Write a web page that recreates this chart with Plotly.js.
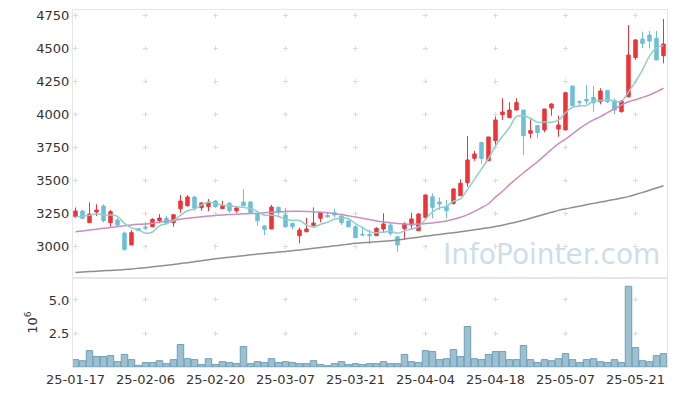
<!DOCTYPE html>
<html>
<head>
<meta charset="utf-8">
<script src="https://cdn.plot.ly/plotly-3.0.1.min.js"></script>
<style>html,body{margin:0;padding:0;background:#fff;}#chart{width:677px;height:396px;}</style>
</head>
<body>
<div id="chart"></div>
<script>
const dates = [
"25-01-17","25-01-20","25-01-21","25-01-22","25-01-23","25-01-24","25-01-31",
"25-02-03","25-02-04","25-02-05","25-02-06","25-02-07","25-02-10","25-02-11","25-02-12","25-02-13","25-02-14",
"25-02-17","25-02-18","25-02-19","25-02-20","25-02-21","25-02-24","25-02-25","25-02-26","25-02-27","25-02-28",
"25-03-04","25-03-05","25-03-06","25-03-07","25-03-10","25-03-11","25-03-12","25-03-13","25-03-14",
"25-03-17","25-03-18","25-03-19","25-03-20","25-03-21","25-03-24","25-03-25","25-03-26","25-03-27","25-03-28","25-03-31",
"25-04-01","25-04-02","25-04-03","25-04-04","25-04-07","25-04-08","25-04-09","25-04-10","25-04-11",
"25-04-14","25-04-15","25-04-16","25-04-17","25-04-18","25-04-21","25-04-22","25-04-23","25-04-24","25-04-25",
"25-04-28","25-04-29","25-04-30","25-05-02","25-05-07","25-05-08","25-05-09","25-05-12","25-05-13","25-05-14",
"25-05-15","25-05-16","25-05-19","25-05-20","25-05-21","25-05-22","25-05-23","25-05-26","25-05-27"
];
const openP = [
3223,3265,3177,3258,3303,3177,3197,3098,3008,3131,
3144,3146,3192,3210,3177,3283,3305,3371,3290,3298,
3341,3283,3324,3267,3333,3333,3242,3152,3129,3293,
3235,3172,3078,3108,3154,3210,3232,3252,3227,3189,
3146,3088,3088,3078,3129,3159,3070,3131,3159,3116,
3217,3373,3333,3298,3323,3381,3480,3664,3783,3646,
3798,3995,3972,4030,4030,3854,3912,3879,4045,3886,
3879,4212,4093,4111,4126,4093,4179,4101,4018,4131,
4427,4568,4598,4573,4442];
const highP = [
3292,3270,3331,3316,3316,3273,3214,3108,3121,3136,
3180,3210,3242,3227,3237,3386,3386,3379,3333,3356,
3348,3343,3333,3298,3430,3341,3250,3159,3311,3298,
3288,3177,3139,3214,3293,3255,3258,3283,3242,3202,
3157,3146,3121,3142,3248,3177,3078,3180,3252,3250,
3392,3399,3369,3348,3437,3505,3833,3720,3790,3826,
3980,4119,4089,4119,4030,3960,3912,4038,4081,3987,
4169,4212,4106,4220,4212,4195,4182,4119,4106,4674,
4568,4624,4629,4629,4720];
const lowP = [
3212,3205,3177,3227,3177,3146,3154,2964,3008,3114,
3121,3142,3172,3164,3146,3252,3298,3267,3267,3265,
3290,3283,3252,3252,3305,3252,3154,3083,3129,3230,
3139,3126,3020,3108,3154,3180,3214,3217,3159,3139,
3063,3078,3015,3078,3108,3078,2957,3045,3121,3113,
3210,3210,3273,3210,3313,3381,3449,3646,3621,3646,
3765,3955,3972,4030,3689,3816,3816,3861,3987,3828,
3879,4063,4063,4076,4018,4073,4083,3998,4010,4124,
4409,4498,4498,4409,4384];
const closeP = [
3265,3210,3242,3273,3192,3260,3159,2975,3101,3116,
3136,3202,3212,3172,3237,3341,3371,3286,3326,3333,
3298,3305,3267,3288,3305,3252,3192,3126,3295,3255,
3146,3146,3121,3129,3174,3255,3222,3235,3177,3146,
3063,3083,3078,3134,3167,3096,3008,3167,3205,3242,
3386,3293,3318,3267,3432,3475,3652,3697,3664,3826,
3955,4015,4030,4086,3836,3874,3859,4038,4076,3917,
4161,4063,4088,4098,4086,4174,4093,4030,4098,4447,
4561,4535,4553,4409,4530];
const ma5 = [
3222,3226,3232,3245,3236,3235,3225,3172,3137,3122,
3097,3106,3153,3168,3192,3233,3267,3281,3312,3331,
3323,3310,3306,3298,3293,3283,3261,3233,3234,3224,
3203,3194,3193,3159,3143,3165,3180,3203,3213,3207,
3169,3141,3109,3101,3105,3112,3097,3114,3129,3144,
3202,3259,3289,3301,3339,3357,3429,3505,3584,3663,
3759,3831,3898,3982,3984,3968,3937,3939,3937,3953,
4010,4051,4061,4065,4099,4102,4108,4096,4096,4168,
4246,4334,4439,4501,4518];
const ma20 = [
3108,3114,3121,3127,3134,3140,3147,3154,3160,3164,
3167,3173,3180,3188,3195,3203,3210,3216,3222,3227,
3231,3235,3238,3241,3244,3246,3248,3252,3255,3259,
3262,3263,3263,3262,3260,3256,3251,3245,3238,3229,
3220,3210,3200,3190,3182,3176,3171,3167,3165,3166,
3170,3175,3182,3190,3202,3218,3238,3262,3290,3320,
3370,3415,3465,3510,3555,3597,3638,3685,3732,3775,
3810,3850,3890,3925,3955,3980,4010,4040,4068,4093,
4108,4126,4144,4168,4195];
const ma60 = [
2800,2803,2806,2809,2812,2815,2818,2822,2826,2831,
2836,2842,2848,2854,2860,2867,2874,2881,2888,2896,
2903,2909,2915,2921,2927,2933,2939,2944,2949,2954,
2958,2964,2970,2976,2983,2989,2995,3001,3007,3014,
3020,3024,3028,3032,3036,3040,3046,3053,3060,3067,
3075,3081,3088,3095,3101,3108,3115,3123,3131,3139,
3148,3158,3170,3182,3195,3210,3225,3240,3255,3270,
3281,3292,3302,3313,3323,3333,3343,3353,3363,3374,
3390,3406,3423,3440,3457];
const volumeM = [
0.55,0.47,1.22,0.78,0.78,0.85,0.40,0.93,0.55,0.12,
0.33,0.33,0.47,0.25,0.55,1.68,0.62,0.55,0.18,0.62,
0.18,0.40,0.33,0.25,1.52,0.25,0.40,0.33,0.62,0.33,
0.40,0.33,0.25,0.25,0.47,0.18,0.10,0.25,0.40,0.18,
0.25,0.18,0.25,0.25,0.40,0.25,0.25,0.93,0.40,0.33,
1.22,1.15,0.55,0.62,1.30,0.78,3.02,0.62,0.55,0.93,
1.15,1.15,0.55,0.55,1.60,0.55,0.33,0.55,0.47,0.62,
1.00,0.55,0.33,0.55,0.62,0.40,0.33,0.55,0.33,6.02,
1.45,0.47,0.40,0.85,1.00];
const priceTicks = [3000,3250,3500,3750,4000,4250,4500,4750];
const volTicks = [2.5,5.0];
const volTickText = ["2.5","5.0"];
const xTickIdx = [0,10,20,30,40,50,60,70,80];

const UP = "#ee3438", DOWN = "#6cbfd6";
const FONT = "DejaVu Sans";
const FRAME = "#e6e6e6", CROSS = "#dcdcdc";

const traces = [
  {type:"scatter", mode:"lines", x:dates, y:ma60, line:{color:"#8f8f8f", width:1.5, shape:"spline"}, hoverinfo:"skip", xaxis:"x", yaxis:"y"},
  {type:"scatter", mode:"lines", x:dates, y:ma20, line:{color:"#cc8cc4", width:1.5, shape:"spline"}, hoverinfo:"skip", xaxis:"x", yaxis:"y"},
  {type:"scatter", mode:"lines", x:dates, y:ma5, line:{color:"#8fd0c6", width:1.5, shape:"spline"}, hoverinfo:"skip", xaxis:"x", yaxis:"y"},
  {type:"candlestick", x:dates, open:openP, high:highP, low:lowP, close:closeP,
   increasing:{line:{color:UP, width:1}, fillcolor:UP},
   decreasing:{line:{color:DOWN, width:1}, fillcolor:DOWN},
   whiskerwidth:0, xaxis:"x", yaxis:"y"},
  {type:"bar", x:dates, y:volumeM, marker:{color:"#9cc0d0", line:{color:"#6f9fb5", width:1}}, xaxis:"x2", yaxis:"y2"}
];

const layout = {
  width:677, height:396,
  margin:{l:73, r:10, t:10, b:29, pad:0},
  paper_bgcolor:"#fff", plot_bgcolor:"#fff",
  showlegend:false,
  font:{family:FONT, size:13, color:"#333"},
  bargap:0.08,
  xaxis:{type:"category", anchor:"y", range:[-0.357,84.5], tickmode:"array",
    tickvals:xTickIdx.map(i=>dates[i]), showticklabels:false, ticks:"",
    showgrid:true, gridcolor:CROSS, gridwidth:1, griddash:"0px,2.5px,5px,25.5px",
    showline:true, mirror:true, linecolor:FRAME, linewidth:1,
    rangeslider:{visible:false}, zeroline:false, fixedrange:true},
  xaxis2:{type:"category", anchor:"y2", matches:"x", range:[-0.357,84.5], tickmode:"array",
    tickvals:xTickIdx.map(i=>dates[i]), ticktext:xTickIdx.map(i=>dates[i]), ticks:"",
    tickfont:{family:FONT, size:13, color:"#333"},
    showgrid:true, gridcolor:CROSS, gridwidth:1, griddash:"0px,19.5px,5px,9px",
    showline:true, mirror:true, linecolor:FRAME, linewidth:1, zeroline:false},
  yaxis:{domain:[0.2493,1], range:[2757.6,4787.9], tickmode:"array", tickvals:priceTicks, ticks:"",
    tickfont:{family:FONT, size:13, color:"#333"},
    showgrid:true, gridcolor:CROSS, gridwidth:1, griddash:"5px,65px",
    showline:true, mirror:true, linecolor:FRAME, linewidth:1, zeroline:false},
  yaxis2:{domain:[0,0.2493], range:[0,6.64], tickmode:"array", tickvals:volTicks, ticktext:volTickText, ticks:"",
    tickfont:{family:FONT, size:13, color:"#333"},
    title:{text:"10<sup>6</sup>", font:{family:FONT, size:13, color:"#333"}, standoff:8},
    showgrid:true, gridcolor:CROSS, gridwidth:1, griddash:"5px,65px",
    showline:true, mirror:true, linecolor:FRAME, linewidth:1, zeroline:false},
  annotations:[{text:"InfoPointer.com", xref:"paper", yref:"paper", x:0.805, y:0.314,
    xanchor:"center", yanchor:"middle", showarrow:false,
    font:{family:FONT, size:28, color:"rgba(170,200,215,0.6)"}}]
};

Plotly.newPlot("chart", traces, layout, {staticPlot:true, displayModeBar:false});
</script>
</body>
</html>
